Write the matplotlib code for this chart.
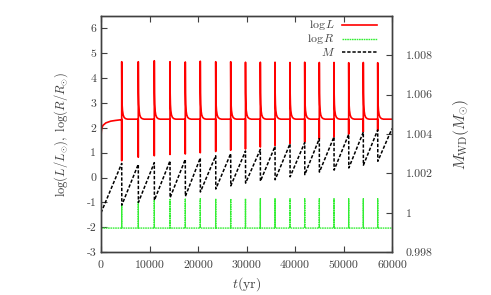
import numpy as np
import matplotlib
matplotlib.use('Agg')
from matplotlib import pyplot as plt

plt.rcParams['font.family'] = ['cmr10', 'DejaVu Serif']
plt.rcParams['mathtext.fontset'] = 'cm'
plt.rcParams['axes.unicode_minus'] = False
plt.rcParams['font.size'] = 8.5

# flash times (yr)
flash_t = [4270, 7690, 10990, 14230, 17380, 20470, 23650, 26740, 29790,
           32850, 35880, 38970, 42000, 45010, 48040, 51070, 54080, 57050]

# log L: rise before first flash
rise_t = [0, 60, 150, 400, 1000, 2000, 3000, 4250]
rise_L = [1.6, 1.85, 1.98, 2.1, 2.2, 2.27, 2.3, 2.33]
# log L at each flash: dip, spike
dip_L = [0.68, 0.82, 0.88, 0.93, 0.95, 1.0, 1.05, 1.1, 1.15,
         1.23, 1.3, 1.38, 1.43, 1.55, 1.63, 1.75, 1.84, 1.9]
peak_L = [4.66, 4.66, 4.70, 4.66, 4.65, 4.68, 4.66, 4.66, 4.64,
          4.64, 4.64, 4.63, 4.64, 4.63, 4.63, 4.62, 4.63, 4.62]
# decay after each spike (yr after flash, log L)
decay_dt = [30, 80, 160, 300, 500, 800, 1200]
decay_L = [3.4, 2.95, 2.7, 2.52, 2.42, 2.37, 2.35]
plateau_L = 2.35

# log R
base_R = -2.03
peak_R = [-1.1, -0.95, -0.9, -0.88, -0.86, -0.85, -0.85, -0.85, -0.85,
          -0.85, -0.85, -0.85, -0.85, -0.85, -0.85, -0.85, -0.85, -0.85]

# WD mass: before and after each flash
M_start = 1.0000
M_peak = [1.00251, 1.00247, 1.00255, 1.00264, 1.00272, 1.00279, 1.00290, 1.00301, 1.00314,
          1.00322, 1.00338, 1.00351, 1.00357, 1.00377, 1.00386, 1.00399, 1.00410, 1.00421]
M_trough = [1.00039, 1.00053, 1.00064, 1.00077, 1.00084, 1.00106, 1.00121, 1.00137, 1.00151,
            1.00161, 1.00168, 1.00183, 1.00194, 1.00207, 1.00217, 1.00228, 1.00242, 1.00262]
t_end = 60000
M_end = 1.00428

labels = [r'$\log L$', r'$\log R$', r'$M$']

# assemble series
tL, L = list(rise_t), list(rise_L)
tR, R = [0], [base_R]
tM, M = [0], [M_start]
for i, tf in enumerate(flash_t):
    tL += [tf - 10, tf - 4, tf] + [tf + d for d in decay_dt]
    L += [plateau_L, dip_L[i], peak_L[i]] + decay_L
    tR += [tf - 5, tf, tf + 5]
    R += [base_R, peak_R[i], base_R]
    tM += [tf, tf + 20]
    M += [M_peak[i], M_trough[i]]
tL.append(t_end); L.append(plateau_L)
tR.append(t_end); R.append(base_R)
tM.append(t_end); M.append(M_end)

fig = plt.figure(figsize=(4.91, 2.95), dpi=100)
ax = fig.add_axes([0.2057, 0.1451, 0.5927, 0.8007])
ax2 = ax.twinx()

styles = [dict(color='#ff0000', lw=1.2),
          dict(color='#33ee33', lw=1.0, ls=(0, (1.2, 0.5))),
          dict(color='black', lw=1.1, ls=(0, (2.2, 1.2)))]

ax.plot(tL, L, **styles[0])
ax.plot(tR, R, **styles[1])
ax2.plot(tM, M, **styles[2])

ax.set_xlim(0, 60000)
ax.set_ylim(-3, 6.5)
ax2.set_ylim(0.998, 1.010)

ax.set_xticks(range(0, 60001, 10000))
ax.set_yticks(range(-3, 7))
ax.set_yticklabels([str(v) for v in range(-3, 7)])
ax2.set_yticks([0.998, 1.0, 1.002, 1.004, 1.006, 1.008])
ax2.set_yticklabels(['0.998', '1', '1.002', '1.004', '1.006', '1.008'])

ax.tick_params(direction='in', top=True, length=4, colors='#404040', labelcolor='#404040')
ax.tick_params(axis='x', pad=6)
ax2.tick_params(direction='in', length=4, colors='#404040', labelcolor='#404040', pad=10)
for a in (ax, ax2):
    for s in a.spines.values():
        s.set_color('#404040')
        s.set_linewidth(1.0)

ax.set_xlabel(r'$t(\mathrm{yr})$', fontsize=10, color='#404040', labelpad=4)
ax.set_ylabel(r'$\log(L/L_{\odot}),\ \log(R/R_{\odot})$', fontsize=9, color='#404040', labelpad=12)
ax2.set_ylabel(r'$M_{\mathrm{WD}}(M_{\odot})$', fontsize=11, color='#404040', labelpad=13)

# gnuplot-style key: right-aligned text, sample line to its right
key_y = [0.962, 0.904, 0.849]
for lab, st, yk in zip(labels, styles, key_y):
    ax2.text(0.804, yk, lab, transform=ax2.transAxes, ha='right', va='center',
             fontsize=8.5, color='#404040')
    ax2.plot([0.828, 0.948], [yk, yk], transform=ax2.transAxes, **st)

fig.savefig('out.png', dpi=100)
